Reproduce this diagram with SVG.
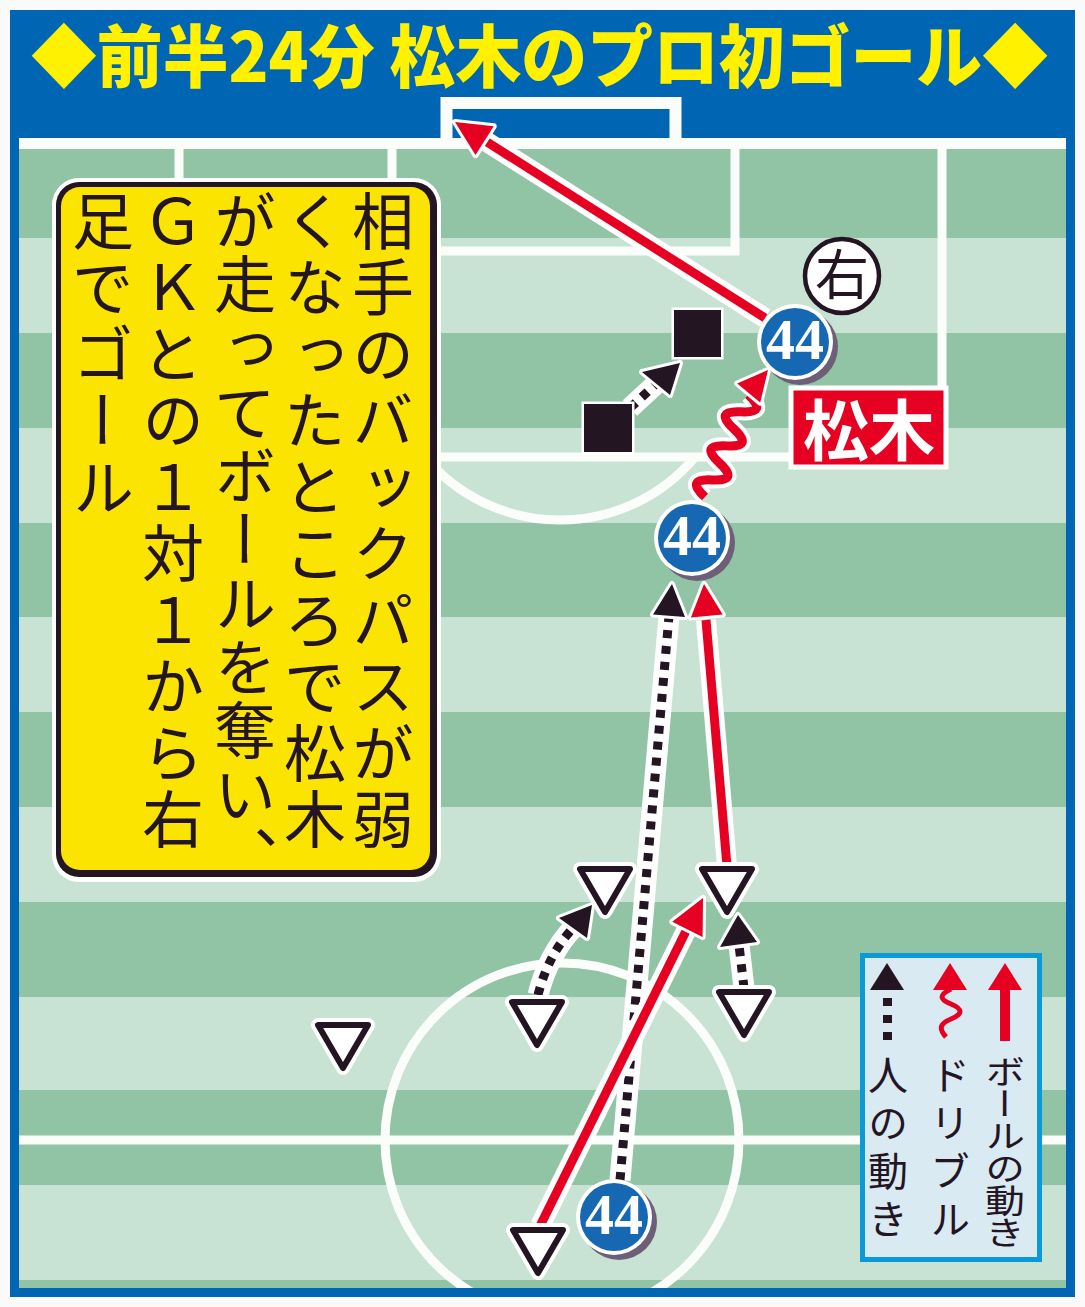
<svg xmlns="http://www.w3.org/2000/svg" width="1085" height="1307" viewBox="0 0 1085 1307">
<defs>
<style>
.jp{font-family:"Noto Sans CJK JP","Noto Sans CJK SC",sans-serif}
.title{font-size:68px;font-weight:900;fill:#fff100}
.vt{writing-mode:vertical-rl;font-size:62px;letter-spacing:4.5px;fill:#231521}
.lg{writing-mode:vertical-rl;font-size:40px;fill:#231521}
.fl{fill:none;stroke:#fbfdfb;stroke-width:9}
.halo{fill:none;stroke:#fff;stroke-linejoin:round}
.red{fill:none;stroke:#e60021;stroke-width:9}
.dots{fill:none;stroke:#231521;stroke-width:9;stroke-dasharray:8 8}
.headR{fill:#e60021;stroke:#fff;stroke-width:6;paint-order:stroke;stroke-linejoin:round}
.headK{fill:#231521;stroke:#fff;stroke-width:6;paint-order:stroke;stroke-linejoin:round}
.triH{fill:#fff;stroke:#fff;stroke-width:14;stroke-linejoin:round}
.tri{fill:#fff;stroke:#231521;stroke-width:6;stroke-linejoin:round}
.sq{fill:#231521;stroke:#fff;stroke-width:5;paint-order:stroke}
.num{font-family:"Liberation Serif",serif;font-weight:bold;font-size:58px;fill:#fff;text-anchor:middle}
.shadow{fill:#6d5f78}
.ring{fill:#fff}
.disc{fill:#1668b3}
</style>
<clipPath id="field"><rect x="19" y="138" width="1047" height="1150"/></clipPath>
<path id="tri" d="M-25,-21 L25,-21 L0,22 Z"/>
</defs>

<rect width="1085" height="1307" fill="#fafafa"/>
<rect x="10" y="10" width="1065" height="1287" fill="#0066b3"/>

<g id="pitch" clip-path="url(#field)">
 <rect x="19" y="138" width="1047" height="1150" fill="#91c4a5"/>
 <g fill="#c8e2d3">
  <rect x="19" y="238" width="1047" height="95"/>
  <rect x="19" y="428" width="1047" height="95"/>
  <rect x="19" y="617" width="1047" height="95"/>
  <rect x="19" y="807" width="1047" height="95"/>
  <rect x="19" y="997" width="1047" height="93"/>
  <rect x="19" y="1185" width="1047" height="95"/>
 </g>
 <rect x="19" y="138" width="1047" height="11" fill="#fbfdfb"/>
 <path class="fl" d="M179,145 V457 H942 V145"/>
 <path class="fl" d="M392,145 V251 H735 V145"/>
 <path class="fl" d="M425,457 A176,176 0 0 0 695,457"/>
 <path class="fl" d="M19,1140 H1066"/>
 <circle class="fl" cx="562" cy="1140" r="177"/>
</g>
<path d="M446.5,140 V103 H675.5 V140" fill="none" stroke="#fbfdfb" stroke-width="12"/>

<text class="jp title" x="31" y="82" textLength="1017" lengthAdjust="spacingAndGlyphs">◆前半24分 松木のプロ初ゴール◆</text>

<g id="note">
 <rect x="52" y="178" width="389" height="704" rx="27" fill="#fff"/>
 <rect x="56" y="182" width="381" height="695" rx="23" fill="#231521"/>
 <rect x="61" y="187" width="369" height="683" rx="19" fill="#fbe400"/>
 <text class="jp vt" x="383" y="190">相手のバックパスが弱</text>
 <text class="jp vt" x="315" y="190">くなったところで松木</text>
 <text class="jp vt" x="245" y="190" textLength="640" lengthAdjust="spacing">が走ってボールを奪い</text>
 <text class="jp vt" x="247" y="826">、</text>
 <text class="jp vt" x="173" y="190">ＧＫとの１対１から右</text>
 <text class="jp vt" x="103" y="190">足でゴール</text>
</g>

<g id="connectors">
 <path class="halo" d="M620,1180 L669,616" stroke-width="21"/>
 <path class="dots" d="M620,1180 L669,616"/>
 <polygon class="headK" points="672,584 685,617 653,614.5"/>
 <path class="halo" d="M727,866 L706,620" stroke-width="20"/>
 <path class="red" d="M727,866 L706,620"/>
 <polygon class="headR" points="704,584 722.7,614.6 690.9,617.4"/>
 <path class="halo" d="M540,1226 L687,929" stroke-width="20"/>
 <path class="red" d="M540,1226 L687,929"/>
 <polygon class="headR" points="703,898 702.6,936.9 672.2,921.7"/>
 <path class="halo" d="M538,995 Q548,955 573,928" stroke-width="21"/>
 <path class="dots" d="M538,995 Q548,955 573,928"/>
 <polygon class="headK" points="592,905 587,938 559,918"/>
 <path class="halo" d="M744,988 L739,945" stroke-width="21"/>
 <path class="dots" d="M744,988 L739,945"/>
 <polygon class="headK" points="738,915 757,942 720,947"/>
 <path class="halo" d="M630,408 L656,384" stroke-width="21"/>
 <path class="dots" d="M630,408 L656,384"/>
 <polygon class="headK" points="680,363 670,395 642,372"/>
 <g transform="translate(705,497) rotate(-67.1)">
  <path class="halo" d="M0,0 q9.25,-26 18.5,0 t18.5,0 t18.5,0 t18.5,0 t18.5,0 t18.5,0" stroke-width="17"/>
  <path class="red" stroke-width="7" d="M0,0 q9.25,-26 18.5,0 t18.5,0 t18.5,0 t18.5,0 t18.5,0 t18.5,0"/>
 </g>
 <polygon class="headR" points="768,370 760.2,402.6 737.2,383.4"/>
 <path class="halo" d="M765,318 L487,142" stroke-width="20"/>
 <path class="red" d="M765,318 L487,142"/>
 <polygon class="headR" points="455,122 493.7,126.3 475.5,155.1"/>
</g>

<g id="opp-a"><use href="#tri" class="triH" x="605" y="890"/><use href="#tri" class="tri" x="605" y="890"/></g>
<g id="opp-b"><use href="#tri" class="triH" x="727" y="890"/><use href="#tri" class="tri" x="727" y="890"/></g>
<g id="opp-c"><use href="#tri" class="triH" x="537" y="1023"/><use href="#tri" class="tri" x="537" y="1023"/></g>
<g id="opp-d"><use href="#tri" class="triH" x="744" y="1013"/><use href="#tri" class="tri" x="744" y="1013"/></g>
<g id="opp-e"><use href="#tri" class="triH" x="343" y="1046"/><use href="#tri" class="tri" x="343" y="1046"/></g>
<g id="opp-f"><use href="#tri" class="triH" x="538" y="1251"/><use href="#tri" class="tri" x="538" y="1251"/></g>

<g id="def-1"><rect class="sq" x="674" y="310" width="47" height="47"/></g>
<g id="def-2"><rect class="sq" x="584" y="404" width="48" height="48"/></g>

<g id="p44-start">
 <circle class="shadow" cx="619" cy="1222" r="38"/>
 <circle class="ring" cx="614" cy="1217" r="38"/>
 <circle class="disc" cx="614" cy="1217" r="34"/>
 <text class="num" x="614" y="1234">44</text>
</g>
<g id="p44-mid">
 <circle class="shadow" cx="697" cy="543" r="38"/>
 <circle class="ring" cx="692" cy="538" r="38"/>
 <circle class="disc" cx="692" cy="538" r="34"/>
 <text class="num" x="692" y="555">44</text>
</g>
<g id="p44-end">
 <circle class="shadow" cx="800" cy="347" r="38"/>
 <circle class="ring" cx="795" cy="342" r="38"/>
 <circle class="disc" cx="795" cy="342" r="34"/>
 <text class="num" x="795" y="359">44</text>
</g>

<g id="right-foot">
 <circle cx="842" cy="276" r="37" fill="#fff" stroke="#231521" stroke-width="4.5"/>
 <text class="jp" x="842" y="295" font-size="54" text-anchor="middle" fill="#231521">右</text>
</g>

<g id="name-label">
 <rect x="791" y="388" width="155" height="79" fill="#e60021" stroke="#fff" stroke-width="5"/>
 <text class="jp" x="869" y="455" font-size="66" font-weight="bold" text-anchor="middle" fill="#fff">松木</text>
</g>

<g id="legend">
 <rect x="862.5" y="955.5" width="177" height="304" fill="#d9eaf3" stroke="#0a9ad9" stroke-width="5"/>
 <polygon points="887,963 870,990 904,990" fill="#231521"/>
 <rect x="883" y="998" width="9" height="8" fill="#231521"/>
 <rect x="883" y="1015" width="9" height="8" fill="#231521"/>
 <rect x="883" y="1032" width="9" height="8" fill="#231521"/>
 <polygon points="950,963 933,990 967,990" fill="#e60021"/>
 <path d="M951,989 c-12,6 -12,10 0,15 c12,5 12,10 0,15 c-12,5 -12,10 -5,18" fill="none" stroke="#e60021" stroke-width="5"/>
 <polygon points="1005,963 988,990 1022,990" fill="#e60021"/>
 <rect x="1000" y="988" width="10" height="53" fill="#e60021"/>
 <text class="jp lg" x="888" y="1055" letter-spacing="8">人の動き</text>
 <text class="jp lg" x="950" y="1055" letter-spacing="8">ドリブル</text>
 <text class="jp lg" transform="translate(1005,1055) scale(1,0.81)" x="0" y="0">ボールの動き</text>
</g>
</svg>
